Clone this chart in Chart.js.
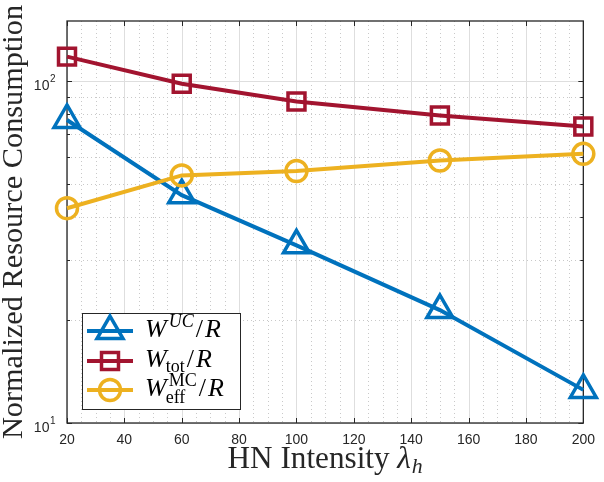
<!DOCTYPE html>
<html>
<head>
<meta charset="utf-8">
<script src="https://cdn.jsdelivr.net/npm/chart.js@4/dist/chart.umd.min.js"></script>
<style>
  html, body { margin: 0; padding: 0; background: #fff; }
</style>
</head>
<body>
<canvas id="myChart" width="604" height="482"></canvas>
<script>
// data
const xValues = [20, 60, 100, 150, 200];
const ucValues = [77.0, 46.4, 33.1, 21.4, 12.5];
const totValues = [118, 98.3, 87.2, 79.4, 73.7];
const effValues = [42.5, 53.0, 54.6, 58.6, 61.3];

const xTicks = [20, 40, 60, 80, 100, 120, 140, 160, 180, 200];
const xMinorTicks = [25, 30, 35, 45, 50, 55, 65, 70, 75, 85, 90, 95, 105, 110, 115, 125, 130, 135, 145, 150, 155, 165, 170, 175, 185, 190, 195];
const yMajorTicks = [10, 100];
const yMinorTicks = [20, 30, 40, 50, 60, 70, 80, 90];
const yTickExp = ['1', '2'];

const xTitle = 'HN Intensity ';
const yTitle = 'Normalized Resource Consumption';

// legend labels as small math pieces
const ucLabel = [{t: 'W', it: true}, {sup: 'UC', supIt: true}, {t: '/'}, {t: 'R', it: true}];
const totLabel = [{t: 'W', it: true}, {sub: 'tot'}, {t: '/'}, {t: 'R', it: true}];
const effLabel = [{t: 'W', it: true}, {sup: 'MC', sub: 'eff'}, {t: '/'}, {t: 'R', it: true}];

const blue = '#0072BD';
const red = '#A2142F';
const yellow = '#EDB120';
const axisColor = '#262626';
const SERIF = '"Liberation Serif", "DejaVu Serif", serif';
const SANS = '"Liberation Sans", Arial, sans-serif';

function drawMath(ctx, parts, x, y, size) {
    const small = Math.round(size * 0.7);
    for (let p of parts) {
        if (p.t) {
            ctx.font = (p.it ? 'italic ' : '') + size + 'px ' + SERIF;
            ctx.fillText(p.t, x, y);
            x += ctx.measureText(p.t).width + (p.t === '/' ? 2 : 0);
        } else {
            let w = 0;
            if (p.sup) {
                ctx.font = (p.supIt ? 'italic ' : '') + small + 'px ' + SERIF;
                ctx.fillText(p.sup, x + 2, y - size * 0.38);
                w = Math.max(w, ctx.measureText(p.sup).width + 2);
            }
            if (p.sub) {
                ctx.font = small + 'px ' + SERIF;
                ctx.fillText(p.sub, x - 1, y + size * (p.sup ? 0.28 : 0.18));
                w = Math.max(w, ctx.measureText(p.sub).width - 1);
            }
            x += w + 2;
        }
    }
}

const axesPlugin = {
    id: 'matlabAxes',
    beforeDatasetsDraw(chart) {
        const ctx = chart.ctx;
        const a = chart.chartArea;
        const xs = chart.scales.x;
        const ys = chart.scales.y;
        ctx.save();
        ctx.lineWidth = 1;
        // minor grid, dotted
        ctx.strokeStyle = '#c9c9c9';
        ctx.setLineDash([1, 3]);
        for (let v of xMinorTicks) {
            let px = Math.round(xs.getPixelForValue(v)) + 0.5;
            ctx.beginPath(); ctx.moveTo(px, a.top); ctx.lineTo(px, a.bottom); ctx.stroke();
        }
        for (let v of yMinorTicks) {
            let py = Math.round(ys.getPixelForValue(v)) + 0.5;
            ctx.beginPath(); ctx.moveTo(a.left, py); ctx.lineTo(a.right, py); ctx.stroke();
        }
        // major grid
        ctx.setLineDash([]);
        ctx.strokeStyle = '#dedede';
        for (let v of xTicks) {
            let px = Math.round(xs.getPixelForValue(v)) + 0.5;
            ctx.beginPath(); ctx.moveTo(px, a.top); ctx.lineTo(px, a.bottom); ctx.stroke();
        }
        for (let v of yMajorTicks) {
            let py = Math.round(ys.getPixelForValue(v)) + 0.5;
            ctx.beginPath(); ctx.moveTo(a.left, py); ctx.lineTo(a.right, py); ctx.stroke();
        }
        // box and inward ticks
        ctx.strokeStyle = axisColor;
        ctx.lineWidth = 1.3;
        ctx.strokeRect(a.left, a.top, a.right - a.left, a.bottom - a.top);
        ctx.lineWidth = 1;
        for (let v of xTicks) {
            let px = Math.round(xs.getPixelForValue(v)) + 0.5;
            ctx.beginPath();
            ctx.moveTo(px, a.bottom); ctx.lineTo(px, a.bottom - 5);
            ctx.moveTo(px, a.top); ctx.lineTo(px, a.top + 5);
            ctx.stroke();
        }
        for (let v of yMajorTicks.concat(yMinorTicks)) {
            let py = Math.round(ys.getPixelForValue(v)) + 0.5;
            let len = yMajorTicks.includes(v) ? 5 : 3;
            ctx.beginPath();
            ctx.moveTo(a.left, py); ctx.lineTo(a.left + len, py);
            ctx.moveTo(a.right, py); ctx.lineTo(a.right - len, py);
            ctx.stroke();
        }
        // y tick labels 10^1, 10^2
        ctx.fillStyle = axisColor;
        ctx.textAlign = 'left';
        ctx.textBaseline = 'alphabetic';
        yMajorTicks.forEach((v, i) => {
            let py = ys.getPixelForValue(v);
            ctx.font = '14px ' + SANS;
            let w = ctx.measureText('10').width;
            ctx.font = '10px ' + SANS;
            let we = ctx.measureText(yTickExp[i]).width;
            let x0 = a.left - 12 - we - w;
            ctx.font = '14px ' + SANS;
            ctx.fillText('10', x0, py + 9);
            ctx.font = '10px ' + SANS;
            ctx.fillText(yTickExp[i], x0 + w + 0.5, py + 1);
        });
        // axis titles
        ctx.font = '26px ' + SERIF;
        let tw = ctx.measureText(yTitle).width;
        let ySize = 26 * 434 / tw;
        ctx.save();
        ctx.translate(22, (a.top + a.bottom) / 2);
        ctx.rotate(-Math.PI / 2);
        ctx.font = ySize.toFixed(1) + 'px ' + SERIF;
        ctx.textAlign = 'center';
        ctx.fillText(yTitle, 0, 0);
        ctx.restore();

        let xSize = ySize * 1.03;
        ctx.font = xSize.toFixed(1) + 'px ' + SERIF;
        let w1 = ctx.measureText(xTitle).width;
        ctx.font = 'italic ' + xSize.toFixed(1) + 'px ' + SERIF;
        let w2 = ctx.measureText('λ').width;
        ctx.font = 'italic ' + (xSize * 0.7).toFixed(1) + 'px ' + SERIF;
        let w3 = ctx.measureText('h').width;
        let total = w1 + w2 + w3 + 1;
        let x0 = (a.left + a.right) / 2 - total / 2;
        let by = 468;
        ctx.textAlign = 'left';
        ctx.font = xSize.toFixed(1) + 'px ' + SERIF;
        ctx.fillText(xTitle, x0, by);
        ctx.font = 'italic ' + xSize.toFixed(1) + 'px ' + SERIF;
        ctx.fillText('λ', x0 + w1, by);
        ctx.font = 'italic ' + (xSize * 0.7).toFixed(1) + 'px ' + SERIF;
        ctx.fillText('h', x0 + w1 + w2 + 1, by + 5);
        ctx.restore();
    },
    afterDatasetsDraw(chart) {
        const ctx = chart.ctx;
        ctx.save();
        // legend box
        ctx.fillStyle = '#fff';
        ctx.fillRect(82, 313, 159, 97);
        ctx.strokeStyle = axisColor;
        ctx.lineWidth = 1;
        ctx.strokeRect(82.5, 313.5, 158, 96);
        const rows = [
            {ds: chart.data.datasets[0], label: ucLabel, y: 331},
            {ds: chart.data.datasets[1], label: totLabel, y: 361},
            {ds: chart.data.datasets[2], label: effLabel, y: 390}
        ];
        for (let r of rows) {
            ctx.strokeStyle = r.ds.borderColor;
            ctx.lineWidth = 4;
            ctx.beginPath(); ctx.moveTo(87, r.y); ctx.lineTo(133, r.y); ctx.stroke();
            ctx.fillStyle = 'rgba(0,0,0,0)';
            ctx.lineWidth = r.ds.pointBorderWidth;
            Chart.helpers.drawPoint(ctx, {
                pointStyle: r.ds.pointStyle,
                radius: r.ds.pointRadius,
                borderWidth: r.ds.pointBorderWidth,
                rotation: 0
            }, 110, r.y);
            ctx.fillStyle = '#000';
            ctx.textAlign = 'left';
            ctx.textBaseline = 'alphabetic';
            drawMath(ctx, r.label, 145, r.y + 6, 26);
        }
        ctx.restore();
    }
};

function toPoints(vals) {
    return xValues.map((x, i) => ({x: x, y: vals[i]}));
}

const ctx = document.getElementById('myChart');
new Chart(ctx, {
    type: 'line',
    data: {
        datasets: [
            {
                label: 'W^UC/R', data: toPoints(ucValues), borderColor: blue, borderWidth: 4,
                pointStyle: 'triangle', pointRadius: 15, pointBorderWidth: 3.5,
                pointBackgroundColor: 'rgba(0,0,0,0)', pointBorderColor: blue, order: 2, clip: false
            },
            {
                label: 'W_tot/R', data: toPoints(totValues), borderColor: red, borderWidth: 4,
                pointStyle: 'rect', pointRadius: 12, pointBorderWidth: 3.5,
                pointBackgroundColor: 'rgba(0,0,0,0)', pointBorderColor: red, order: 1, clip: false
            },
            {
                label: 'W_eff^MC/R', data: toPoints(effValues), borderColor: yellow, borderWidth: 4,
                pointStyle: 'circle', pointRadius: 10.5, pointBorderWidth: 3.5,
                pointBackgroundColor: 'rgba(0,0,0,0)', pointBorderColor: yellow, order: 0, clip: false
            }
        ]
    },
    options: {
        responsive: false,
        animation: false,
        devicePixelRatio: 1,
        layout: {padding: {top: 21, right: 18, left: 0, bottom: 0}},
        plugins: {legend: {display: false}, tooltip: {enabled: false}},
        scales: {
            x: {
                type: 'linear', min: 20, max: 200,
                afterBuildTicks: s => { s.ticks = xTicks.map(v => ({value: v})); },
                ticks: {font: {family: SANS, size: 14}, color: axisColor, padding: 9, maxRotation: 0, autoSkip: false},
                grid: {display: false, drawTicks: false},
                border: {display: false},
                afterFit: s => { s.height = 59; }
            },
            y: {
                type: 'logarithmic', min: 10, max: 150,
                ticks: {display: false},
                grid: {display: false, drawTicks: false},
                border: {display: false},
                afterFit: s => { s.width = 67; }
            }
        }
    },
    plugins: [axesPlugin]
});
</script>
</body>
</html>
